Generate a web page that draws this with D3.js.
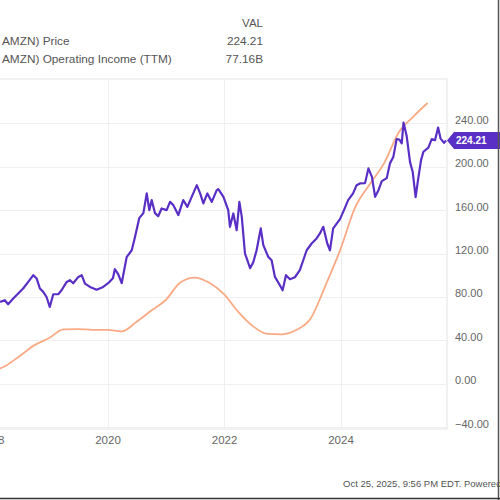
<!DOCTYPE html>
<html><head><meta charset="utf-8">
<script src="https://cdn.jsdelivr.net/npm/d3@7"></script>
<style>html,body{margin:0;padding:0;background:#fff;overflow:hidden}svg{display:block}</style>
</head><body>
<svg id="c" width="500" height="500"></svg>
<script>
const priceDates = ["2018-02-26","2018-03-28","2018-04-18","2018-05-20","2018-06-20","2018-07-21","2018-08-22","2018-09-23","2018-10-14","2018-11-03","2018-11-24","2018-12-15","2019-01-04","2019-01-26","2019-02-26","2019-03-19","2019-04-20","2019-05-10","2019-05-31","2019-07-02","2019-07-23","2019-08-13","2019-09-13","2019-10-25","2019-12-05","2020-01-05","2020-02-04","2020-02-16","2020-03-08","2020-03-30","2020-04-30","2020-06-01","2020-06-21","2020-07-18","2020-08-13","2020-09-03","2020-09-19","2020-10-04","2020-10-25","2020-11-14","2020-12-05","2021-01-06","2021-01-27","2021-02-17","2021-03-20","2021-04-20","2021-05-16","2021-06-12","2021-07-14","2021-08-04","2021-08-24","2021-09-18","2021-10-16","2021-11-16","2021-11-26","2021-12-28","2022-01-27","2022-02-07","2022-02-28","2022-03-21","2022-04-07","2022-04-22","2022-05-12","2022-05-27","2022-06-13","2022-07-03","2022-07-24","2022-08-19","2022-09-04","2022-10-05","2022-10-26","2022-11-16","2022-12-17","2023-01-03","2023-01-24","2023-02-18","2023-03-21","2023-04-21","2023-06-03","2023-07-04","2023-08-04","2023-08-25","2023-09-15","2023-10-10","2023-10-27","2023-11-16","2023-12-29","2024-01-28","2024-02-18","2024-03-20","2024-04-11","2024-05-02","2024-06-03","2024-06-24","2024-07-16","2024-08-05","2024-08-26","2024-09-16","2024-10-17","2024-11-06","2024-11-27","2024-12-18","2025-01-04","2025-01-19","2025-01-30","2025-02-19","2025-03-12","2025-03-29","2025-04-16","2025-05-01","2025-05-20","2025-06-04","2025-07-05","2025-07-26","2025-08-16","2025-09-04","2025-09-19","2025-10-11","2025-10-24"];
const priceValues = [75.3,76.9,73.2,78.5,83.1,87.7,93.8,100.0,96.9,87.7,84.6,79.9,70.7,82.4,82.4,86.1,93.8,95.4,92.6,98.4,100.0,92.3,89.2,86.6,89.2,92.6,97.2,105.5,100.9,92.6,116.6,123.0,135.0,152.6,157.2,175.4,160.0,169.2,157.2,154.4,161.5,160.0,167.6,164.6,155.4,169.2,163.0,172.2,183.0,175.4,166.2,175.4,167.6,178.4,179.4,172.3,160.0,144.6,156.9,141.5,167.6,153.8,120.0,113.8,106.4,112.0,123.0,143.1,127.7,116.9,113.8,98.4,90.7,86.1,100.0,96.3,98.1,104.6,123.0,129.2,133.9,138.5,144.6,129.2,123.0,143.1,151.7,161.8,169.2,175.4,183.0,184.6,184.9,198.5,190.7,172.3,178.4,186.7,189.5,203.1,208.9,225.5,225.1,221.5,240.7,228.3,204.3,195.1,172.0,187.7,206.1,213.8,217.7,225.5,224.6,236.1,226.2,222.0,224.21];
const oiDates = ["2017-12-31","2018-03-31","2018-06-30","2018-09-30","2018-12-31","2019-03-31","2019-06-30","2019-09-30","2019-12-31","2020-03-31","2020-06-30","2020-09-30","2020-12-31","2021-03-31","2021-06-30","2021-09-30","2021-12-31","2022-03-31","2022-06-30","2022-09-30","2022-12-31","2023-03-31","2023-06-30","2023-09-30","2023-12-31","2024-03-31","2024-06-30","2024-09-30","2024-12-31","2025-03-31","2025-06-30"];
const oiValues = [4.1,5.7,8.4,11.3,13.2,15.5,15.6,15.4,15.4,15.0,17.5,20.5,23.4,28.0,29.4,28.0,25.0,20.2,16.4,14.3,14.2,15.4,18.6,27.4,36.9,48.0,54.3,60.0,68.3,72.5,76.2];
const yTicks = [-40,0,40,80,120,160,200,240];
const xTickYears = [2018,2020,2022,2024];
const legendHeader = "VAL";
const seriesNames = ["AMZN) Price","AMZN) Operating Income (TTM)"];
const seriesLast = ["224.21","77.16B"];
const lastPriceLabel = "224.21";
const footer = "Oct 25, 2025, 9:56 PM EDT.  Powered by YCHARTS";

const purple = "#5a2fc6", orange = "#f9aa84";
const svg = d3.select("#c");
const parse = d3.timeParse("%Y-%m-%d");
const lf = "Liberation Sans, Arial, sans-serif";
const L = -60, R = 447, T = 80, B = 427;
const x = d3.scaleTime().domain([new Date(2020,0,1), new Date(2024,0,1)]).range([107.5, 340.5]);
const y = d3.scaleLinear().domain([-40,280]).range([B, T]);
const yOI = d3.scaleLinear().domain([0,80]).range([387.3, 88.8]);

// frame
svg.append("rect").attr("x",L).attr("y",79).attr("width",R-L).attr("height",429-79)
  .attr("fill","none").attr("stroke","#e3e3e3").attr("stroke-width",1);
// grid
svg.append("g").selectAll("line").data(yTicks).join("line")
  .attr("x1",L).attr("x2",R).attr("y1",d=>Math.round(y(d))+0.5).attr("y2",d=>Math.round(y(d))+0.5)
  .attr("stroke","#efefef");
svg.append("g").selectAll("line").data(xTickYears).join("line")
  .attr("x1",d=>Math.round(x(new Date(d,0,1)))+0.5).attr("x2",d=>Math.round(x(new Date(d,0,1)))+0.5)
  .attr("y1",79).attr("y2",429).attr("stroke","#efefef");

// y axis labels
const yAxis = d3.axisRight(y).tickValues(yTicks).tickFormat(d3.format(".2f")).tickSize(0).tickPadding(0);
const ga = svg.append("g").attr("transform",`translate(455,0)`).call(yAxis);
ga.select(".domain").remove();
ga.selectAll("text").attr("fill","#666").attr("font-size","11px").attr("font-family",lf).attr("dy","0").attr("y",0);

// x axis labels
const xAxis = d3.axisBottom(x).tickValues(xTickYears.map(v=>new Date(v,0,1))).tickFormat(d3.timeFormat("%Y")).tickSize(0).tickPadding(0);
const gx = svg.append("g").attr("transform",`translate(0,436)`).call(xAxis);
gx.select(".domain").remove();
gx.selectAll("text").attr("fill","#666").attr("font-size","11.5px").attr("font-family",lf);

// lines
const oiData = oiDates.map((d,i)=>({d:parse(d),v:oiValues[i]}));
const pData = priceDates.map((d,i)=>({d:parse(d),v:priceValues[i]}));
svg.append("path").datum(oiData).attr("fill","none").attr("stroke",orange).attr("stroke-width",1.8)
  .attr("d",d3.line().x(p=>x(p.d)).y(p=>yOI(p.v)).curve(d3.curveMonotoneX));
svg.append("path").datum(pData).attr("fill","none").attr("stroke",purple).attr("stroke-width",2.2)
  .attr("stroke-linejoin","round")
  .attr("d",d3.line().x(p=>x(p.d)).y(p=>y(p.v)));

// last price tag
const last = pData[pData.length-1];
const ty = y(last.v);
svg.append("path").attr("fill",purple)
  .attr("d",`M447,${ty} L454,${ty-8.5} L502,${ty-8.5} L502,${ty+8.5} L454,${ty+8.5} Z`);
svg.append("text").attr("x",456).attr("y",ty+3.5).attr("fill","#fff").attr("font-weight","bold")
  .attr("font-size","10px").attr("font-family",lf).text(lastPriceLabel);

// legend
svg.append("text").attr("x",263).attr("y",27).attr("text-anchor","end").attr("fill","#555").attr("font-size","11.5px").attr("font-family",lf).text(legendHeader);
seriesNames.forEach((n,i)=>{
  svg.append("text").attr("x",2).attr("y",45+i*18).attr("fill","#555").attr("font-size","11.8px").attr("font-family",lf).text(n);
  svg.append("text").attr("x",263).attr("y",45+i*18).attr("text-anchor","end").attr("fill","#555").attr("font-size","11.8px").attr("font-family",lf).text(seriesLast[i]);
});

// footer
svg.append("text").attr("x",343).attr("y",487).attr("fill","#555").attr("font-size","9.5px").attr("font-family",lf).text(footer);
// outer border right/bottom
svg.append("line").attr("x1",498.5).attr("x2",498.5).attr("y1",0).attr("y2",500).attr("stroke","#555").attr("stroke-width",1.5);
svg.append("line").attr("x1",0).attr("x2",500).attr("y1",498.5).attr("y2",498.5).attr("stroke","#333").attr("stroke-width",1.5);
</script>
</body></html>
